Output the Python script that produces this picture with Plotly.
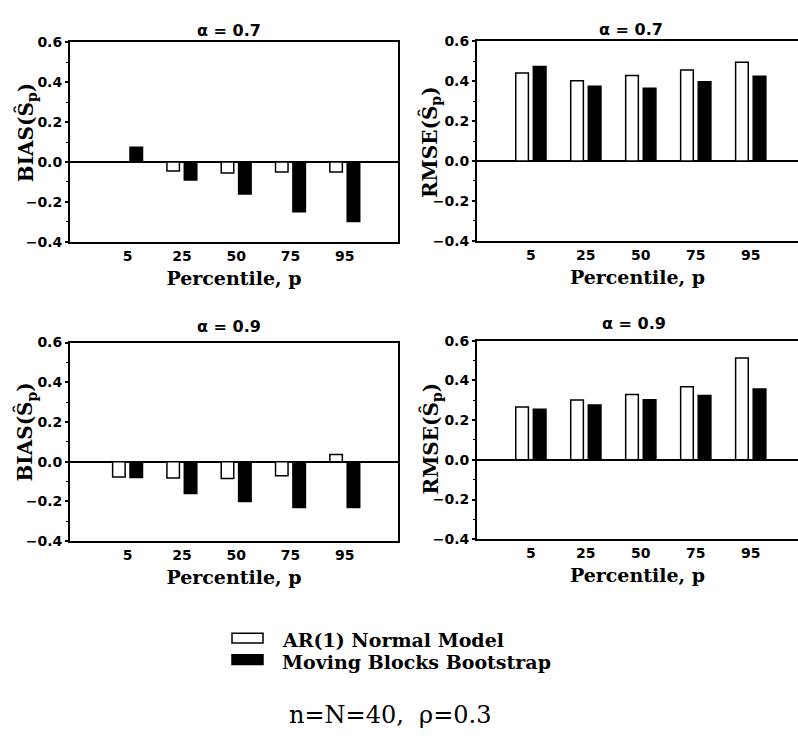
import plotly.graph_objects as go

percentiles = ["5", "25", "50", "75", "95"]
series_names = ["AR(1) Normal Model", "Moving Blocks Bootstrap"]
series_fill = ["white", "black"]

bias_07_ar = [0.0, -0.045, -0.055, -0.05, -0.05]
bias_07_mbb = [0.074, -0.09, -0.16, -0.249, -0.298]
rmse_07_ar = [0.441, 0.402, 0.428, 0.456, 0.495]
rmse_07_mbb = [0.474, 0.374, 0.364, 0.397, 0.425]
bias_09_ar = [-0.077, -0.082, -0.084, -0.07, 0.036]
bias_09_mbb = [-0.079, -0.16, -0.20, -0.23, -0.23]
rmse_09_ar = [0.266, 0.301, 0.329, 0.368, 0.513]
rmse_09_mbb = [0.255, 0.276, 0.302, 0.324, 0.357]

panel_titles = ["α = 0.7", "α = 0.7", "α = 0.9", "α = 0.9"]
y_titles = ["BIAS(Ŝ<sub>p</sub>)", "RMSE(Ŝ<sub>p</sub>)", "BIAS(Ŝ<sub>p</sub>)", "RMSE(Ŝ<sub>p</sub>)"]
x_title = "Percentile, p"
note = "n=N=40,  ρ=0.3"

W, H = 798, 738
positions = list(range(1, len(percentiles) + 1))

panels = [
    (bias_07_ar, bias_07_mbb),
    (rmse_07_ar, rmse_07_mbb),
    (bias_09_ar, bias_09_mbb),
    (rmse_09_ar, rmse_09_mbb),
]

# pixel boxes: (left, right, top, bottom)
boxes = [
    (70, 398, 35, 239),
    (477, 798, 34, 238),
    (70, 398, 342, 545),
    (477, 798, 340, 543),
]
xranges = [[-0.06, 5.98], [0.02, 5.86], [-0.06, 5.98], [0.02, 5.86]]
# y-title centres (px)
ytitle_pos = [(26, 128), (430, 137), (26, 434), (431, 440)]
# panel-title centres (px)
ptitle_pos = [(229, 23), (631, 22), (229, 326), (634, 323)]

fig = go.Figure()

tick_font = dict(family="DejaVu Sans", size=14, color="black", weight="bold")
serif_bold = dict(family="DejaVu Serif", size=19, color="black", weight="bold")
ytitle_font = dict(family="DejaVu Serif", size=20, color="black", weight="bold")

for i, (ar, mbb) in enumerate(panels):
    n = "" if i == 0 else str(i + 1)
    xa, ya = "x" + n, "y" + n
    for vals, name, fill in zip((ar, mbb), series_names, series_fill):
        fig.add_trace(go.Bar(
            x=positions, y=vals, name=name, xaxis=xa, yaxis=ya,
            marker=dict(color=fill, line=dict(color="black", width=1.5)),
            showlegend=False,
        ))
    l, r, t, b = boxes[i]
    right_panel = i % 2 == 1
    fig.layout["xaxis" + n] = dict(
        domain=[l / W, r / W], range=xranges[i], anchor=ya,
        tickmode="array", tickvals=positions, ticktext=percentiles,
        ticks="", showgrid=False, zeroline=False,
        showline=True, linecolor="black", linewidth=2, mirror=True,
        tickfont=tick_font,
        title=dict(text=x_title, font=serif_bold, standoff=9),
    )
    fig.layout["yaxis" + n] = dict(
        domain=[1 - b / H, 1 - t / H], range=[-0.4, 0.6], anchor=xa,
        tickmode="array", tickvals=[-0.4, -0.2, 0.0, 0.2, 0.4, 0.6],
        ticktext=["−0.4", "−0.2", "0.0", "0.2", "0.4", "0.6"],
        ticks="outside", ticklen=3, tickwidth=1.5, tickcolor="black",
        minor=dict(dtick=0.1, ticks="outside", ticklen=2, tickwidth=1, tickcolor="black"),
        showgrid=False, zeroline=True, zerolinecolor="black", zerolinewidth=1.5,
        showline=True, linecolor="black", linewidth=2, mirror=not right_panel,
        tickfont=tick_font,
    )
    tx, ty = ytitle_pos[i]
    fig.add_annotation(
        x=tx / W, y=1 - ty / H, xref="paper", yref="paper",
        text=y_titles[i], textangle=-90, showarrow=False,
        xanchor="center", yanchor="middle", font=ytitle_font,
    )
    px, py = ptitle_pos[i]
    fig.add_annotation(
        x=px / W, y=1 - py / H, xref="paper", yref="paper",
        text=panel_titles[i], showarrow=False, xanchor="center", yanchor="middle",
        font=dict(family="DejaVu Sans", size=16, color="black", weight="bold"),
    )

# legend drawn as key boxes and labels
for k, (name, fill) in enumerate(zip(series_names, series_fill)):
    yc = 646 + 22 * k
    fig.add_shape(
        type="rect", xref="paper", yref="paper",
        x0=232 / W, x1=263 / W, y0=1 - (yc + 3) / H, y1=1 - (yc - 7) / H,
        fillcolor=fill, line=dict(color="black", width=1.5),
    )
    fig.add_annotation(
        x=281 / W, y=1 - yc / H, xref="paper", yref="paper",
        text=name, showarrow=False, xanchor="left", yanchor="middle",
        borderpad=0,
        font=dict(family="DejaVu Serif", size=19, color="black", weight="bold"),
    )

fig.add_annotation(
    x=390 / W, y=1 - 723 / H, xref="paper", yref="paper",
    text=note, showarrow=False, xanchor="center", yanchor="middle",
    font=dict(family="DejaVu Serif", size=24, color="black"),
)

fig.update_layout(
    width=W, height=H,
    margin=dict(l=0, r=0, t=0, b=0),
    paper_bgcolor="white", plot_bgcolor="white",
    barmode="group", bargap=0.36, bargroupgap=0.28,
    showlegend=False,
)

fig.write_html("out.html")
